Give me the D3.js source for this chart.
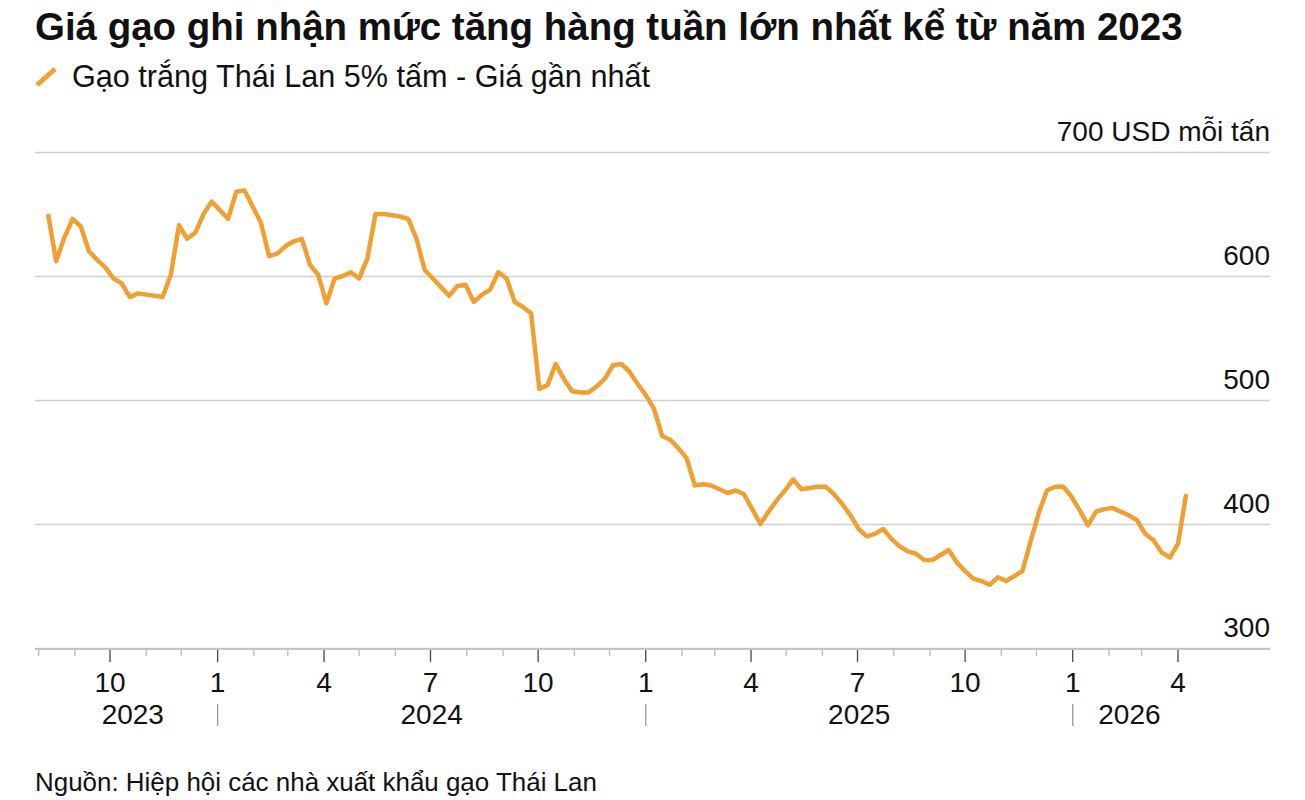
<!DOCTYPE html>
<html>
<head>
<meta charset="utf-8">
<script src="https://cdn.jsdelivr.net/npm/d3@7"></script>
<style>
  html, body { margin: 0; padding: 0; background: #fff; }
  svg { display: block; font-family: "Liberation Sans", Arial, Helvetica, sans-serif; }
</style>
</head>
<body>
<svg id="chart" width="1305" height="800"></svg>
<script>
// ---------- DATA ----------
const titleText = "Giá gạo ghi nhận mức tăng hàng tuần lớn nhất kể từ năm 2023";
const seriesName = "Gạo trắng Thái Lan 5% tấm - Giá gần nhất";
const sourceText = "Nguồn: Hiệp hội các nhà xuất khẩu gạo Thái Lan";
const unitLabel = "USD mỗi tấn";
const firstWeek = "2023-08-09";   // weekly observations (Wednesdays)
const prices = [
  650, 612, 631, 646, 640, 620, 613, 607, 598, 594,
  583, 586, 585, 584, 583, 601, 641, 630, 635, 650,
  660, 653, 646, 668, 669, 656, 643, 616, 618, 624,
  628, 630, 609, 601, 578, 598, 600, 603, 598, 614,
  650, 650, 649, 648, 646, 630, 605, 598, 591, 584,
  592, 593, 579, 585, 589, 603, 598, 579, 575, 570,
  509, 512, 529, 517, 507, 506, 506, 511, 517, 528,
  529, 523, 513, 504, 493, 471, 468, 461, 453, 431,
  432, 431, 428, 425, 427, 424, 412, 400, 410, 419,
  427, 436, 428, 429, 430, 430, 424, 416, 407, 396,
  390, 392, 396, 388, 382, 378, 376, 371, 371, 375,
  379, 369, 362, 356, 354, 351, 357, 354, 358, 362,
  386, 409, 427, 430, 430, 422, 411, 399, 410, 412,
  413, 410, 407, 403, 392, 387, 377, 373, 384, 424
];
const yTicks = [300, 400, 500, 600, 700];
const monthLabelEvery = 3;          // label Jan / Apr / Jul / Oct
const years = [2023, 2024, 2025, 2026];

// ---------- SETUP ----------
(function () {
const svg = d3.select("#chart");
const mL = 35, mR = 1270, mT = 152, mB = 648;
const lineColor = "#F0A032";
const gridColor = "#cfcfcf";
const textColor = "#111";
const axisFont = 28;

const parse = d3.utcParse("%Y-%m-%d");
const start = parse(firstWeek);
const dates = prices.map((_, i) => d3.utcDay.offset(start, 7 * i));
const data = dates.map((d, i) => ({ date: d, value: prices[i] }));

const x = d3.scaleUtc()
  .domain([Date.UTC(2023, 9, 1), Date.UTC(2026, 3, 1)])
  .range([110, 1178]);
const y = d3.scaleLinear().domain([300, 700]).range([mB, mT]);

function fit(sel, target) {
  const node = sel.node();
  const fs = parseFloat(sel.attr("font-size"));
  const w = node.getComputedTextLength();
  if (w > 0) sel.attr("font-size", (fs * target / w).toFixed(2));
}

// ---------- TITLE / LEGEND ----------
const title = svg.append("text")
  .attr("x", 35).attr("y", 40)
  .attr("font-size", 34).attr("font-weight", "bold")
  .attr("fill", textColor)
  .text(titleText);
fit(title, 1148);

svg.append("line")
  .attr("x1", 37).attr("y1", 85).attr("x2", 55).attr("y2", 69)
  .attr("stroke", lineColor).attr("stroke-width", 5).attr("stroke-linecap", "butt");

const legend = svg.append("text")
  .attr("x", 72).attr("y", 87)
  .attr("font-size", 26)
  .attr("fill", textColor)
  .text(seriesName);
fit(legend, 578);

// ---------- Y GRID + LABELS ----------
const yAxis = d3.axisRight(y)
  .tickValues(yTicks)
  .tickSize(mR - mL)
  .tickFormat(d => d === 700 ? `${d} ${unitLabel}` : d);

const gy = svg.append("g")
  .attr("transform", `translate(${mL},0)`)
  .call(yAxis);
gy.select(".domain").remove();
gy.selectAll(".tick line")
  .attr("stroke", gridColor).attr("stroke-width", 1.6);
gy.selectAll(".tick text")
  .attr("x", mR - mL).attr("dy", "-12px")
  .attr("text-anchor", "end")
  .attr("font-size", axisFont)
  .attr("font-family", "\"Liberation Sans\", Arial, sans-serif")
  .attr("fill", textColor);

// ---------- X AXIS ----------
const monthTicks = d3.utcMonth.range(Date.UTC(2023, 7, 1), Date.UTC(2026, 4, 1));
const gx = svg.append("g");
gx.append("line")
  .attr("x1", mL).attr("x2", mR)
  .attr("y1", mB + 1).attr("y2", mB + 1)
  .attr("stroke", "#bdbdbd").attr("stroke-width", 1.6);

gx.selectAll("line.tick")
  .data(monthTicks)
  .join("line")
  .attr("class", "tick")
  .attr("x1", d => x(d)).attr("x2", d => x(d))
  .attr("y1", mB + 2)
  .attr("y2", d => d.getUTCMonth() % monthLabelEvery === 0 ? mB + 14 : mB + 8)
  .attr("stroke", d => d.getUTCMonth() % monthLabelEvery === 0 ? "#444" : "#bbb")
  .attr("stroke-width", 1.3);

gx.selectAll("text.month")
  .data(monthTicks.filter(d => d.getUTCMonth() % monthLabelEvery === 0))
  .join("text")
  .attr("class", "month")
  .attr("x", d => x(d)).attr("y", mB + 44)
  .attr("text-anchor", "middle")
  .attr("font-size", axisFont)
  .attr("fill", textColor)
  .text(d => d.getUTCMonth() + 1);

// year labels centred on each year's data span
const firstDate = dates[0], lastDate = dates[dates.length - 1];
years.forEach(yr => {
  const a = new Date(Math.max(Date.UTC(yr, 0, 1), +firstDate));
  const b = new Date(Math.min(Date.UTC(yr + 1, 0, 1), +lastDate));
  gx.append("text")
    .attr("x", (x(a) + x(b)) / 2).attr("y", mB + 76)
    .attr("text-anchor", "middle")
    .attr("font-size", axisFont)
    .attr("fill", textColor)
    .text(yr);
  if (yr > years[0]) {
    gx.append("line")
      .attr("x1", x(Date.UTC(yr, 0, 1))).attr("x2", x(Date.UTC(yr, 0, 1)))
      .attr("y1", mB + 56).attr("y2", mB + 78)
      .attr("stroke", "#999").attr("stroke-width", 1.3);
  }
});

// ---------- LINE ----------
const line = d3.line()
  .x(d => x(d.date))
  .y(d => y(d.value))
  .curve(d3.curveLinear);

svg.append("path")
  .datum(data)
  .attr("d", line)
  .attr("fill", "none")
  .attr("stroke", lineColor)
  .attr("stroke-width", 4.5)
  .attr("stroke-linejoin", "round")
  .attr("stroke-linecap", "butt");

// ---------- SOURCE ----------
const src = svg.append("text")
  .attr("x", 35).attr("y", 791)
  .attr("font-size", 22)
  .attr("fill", textColor)
  .text(sourceText);
fit(src, 562);
})();
</script>
</body>
</html>
